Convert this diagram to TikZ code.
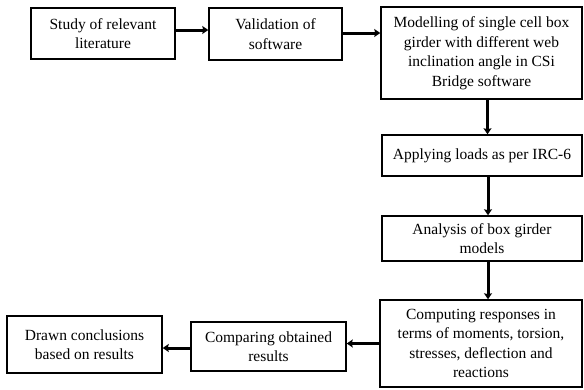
\documentclass[tikz,border=0pt]{standalone}
\usepackage{fontspec}
\setmainfont{Liberation Serif}
\usetikzlibrary{arrows.meta}
\begin{document}
\begin{tikzpicture}[x=1pt,y=-1pt,
  box/.style={draw=black,line width=1.5pt,align=center,inner sep=0pt,
    font=\fontsize{15.5pt}{19.5pt}\selectfont},
  arr/.style={line width=3pt,-{Stealth[length=6pt,width=8pt,inset=1pt]}}]
\useasboundingbox (0,0) rectangle (584,389);
\node[box,minimum width=144pt,minimum height=51pt] (b1) at (103,33.5) {Study of relevant\\literature};
\node[box,minimum width=133pt,minimum height=52pt] (b2) at (275.5,34) {Validation of\\software};
\node[box,minimum width=201pt,minimum height=92pt] (b3) at (481.5,53) {Modelling of single cell box\\girder with different web\\inclination angle in CSi\\Bridge software};
\node[box,minimum width=200pt,minimum height=41pt] (b4) at (482,155.5) {Applying loads as per IRC-6};
\node[box,minimum width=200pt,minimum height=45pt] (b5) at (482,238.5) {Analysis of box girder\\models};
\node[box,minimum width=202pt,minimum height=87pt] (b6) at (481,343.5) {Computing responses in\\terms of moments, torsion,\\stresses, deflection and\\reactions};
\node[box,minimum width=155pt,minimum height=49pt] (b7) at (268.5,346.5) {Comparing obtained\\results};
\node[box,minimum width=155pt,minimum height=57pt] (b8) at (84.5,344.5) {Drawn conclusions\\based on results};
\draw[arr] ([yshift=3.5pt]b1.east) -- ([yshift=3.5pt]b1.east -| b2.west);
\draw[arr] ([yshift=1pt]b2.east) -- ([yshift=1pt]b2.east -| b3.west);
\draw[arr] ([xshift=6pt]b3.south) -- ([xshift=6pt]b3.south |- b4.north);
\draw[arr] ([xshift=6pt]b4.south) -- ([xshift=6pt]b4.south |- b5.north);
\draw[arr] ([xshift=6pt]b5.south) -- ([xshift=6pt]b5.south |- b6.north);
\draw[arr] (b6.west) -- (b6.west -| b7.east);
\draw[arr] ([yshift=-1.5pt]b7.west) -- ([yshift=-1.5pt]b7.west -| b8.east);
\end{tikzpicture}
\end{document}
